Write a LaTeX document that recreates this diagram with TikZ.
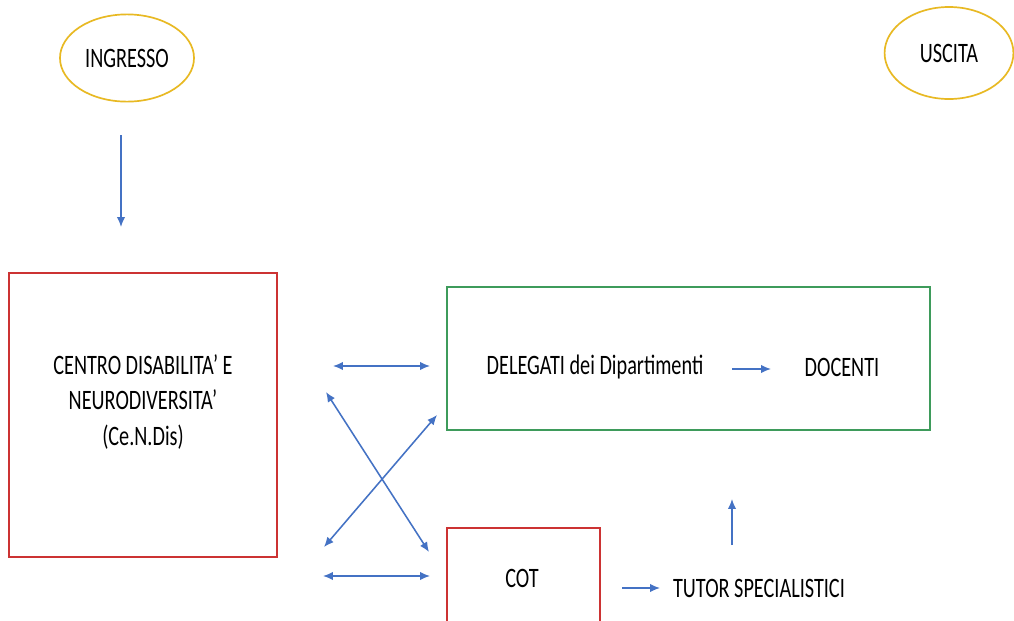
\documentclass[tikz,border=0pt]{standalone}
\usepackage{fontspec}
\setmainfont{Carlito}[FakeStretch=0.72]
\usetikzlibrary{arrows.meta,shapes.geometric}
\definecolor{gold}{HTML}{E8B923}
\definecolor{boxred}{HTML}{CC3333}
\definecolor{boxgreen}{HTML}{3E9B5B}
\definecolor{arrblue}{HTML}{4472C4}
\begin{document}
\begin{tikzpicture}[x=0.025cm, y=-0.025cm,
  font=\fontsize{20}{24}\selectfont,
  oval/.style={draw=gold, line width=1.2pt, ellipse},
  box/.style={draw=#1, line width=1pt, inner sep=0pt},
  link/.style={draw=arrblue, line width=1.1pt, -{Latex[length=7pt,width=6pt]}},
  both/.style={link, {Latex[length=7pt,width=6pt]}-{Latex[length=7pt,width=6pt]}}]
\clip (0,0) rectangle (1014,620);
\fill[white] (0,0) rectangle (1014,620);

% Ovals at top
\node[oval, minimum width=3.35cm, minimum height=2.18cm] (ingresso) at (127,58) {INGRESSO};
\node[oval, minimum width=3.22cm, minimum height=2.3cm] (uscita) at (949,53) {USCITA};

% Boxes
\node[box=boxred, minimum width=6.7cm, minimum height=7.1cm] (cendis) at (143,415) {};
\node[align=center] (cendistxt) at (143,402) {CENTRO DISABILITA’ E\\[1pt] NEURODIVERSITA’\\[1pt] (Ce.N.Dis)};
\node[box=boxgreen, minimum width=12.075cm, minimum height=3.575cm] (delegbox) at (688.5,358.5) {};
\node (delegati) at (595,367) {DELEGATI dei Dipartimenti};
\node (docenti) at (842,367) {DOCENTI};
\node[box=boxred, minimum width=3.825cm, minimum height=3.75cm] (cotbox) at (523.5,603) {};
\node (cot) at (522,578) {COT};
\node (tutor) at (759,588) {TUTOR SPECIALISTICI};

% Free ends of the floating arrows
\coordinate (ingA) at (121,135);
\coordinate (ingB) at (121,227);
\coordinate (hA) at (333,366);
\coordinate (hB) at (430,366);
\coordinate (dA) at (326,392);
\coordinate (dB) at (429,552);
\coordinate (eA) at (437,415);
\coordinate (eB) at (324,547);
\coordinate (lA) at (323,576);
\coordinate (lB) at (430,576);
\coordinate (docA) at (732,369);
\coordinate (docB) at (771,369);
\coordinate (tutA) at (622,588);
\coordinate (tutB) at (660,588);
\coordinate (upA) at (732,545);
\coordinate (upB) at (732,499);

% Connectors
\draw[link] (ingA) -- (ingB);
\draw[both] (hA) -- (hB);
\draw[both] (dA) -- (dB);
\draw[both] (eA) -- (eB);
\draw[both] (lA) -- (lB);
\draw[link] (docA) -- (docB);
\draw[link] (tutA) -- (tutB);
\draw[link] (upA) -- (upB);
\end{tikzpicture}
\end{document}
